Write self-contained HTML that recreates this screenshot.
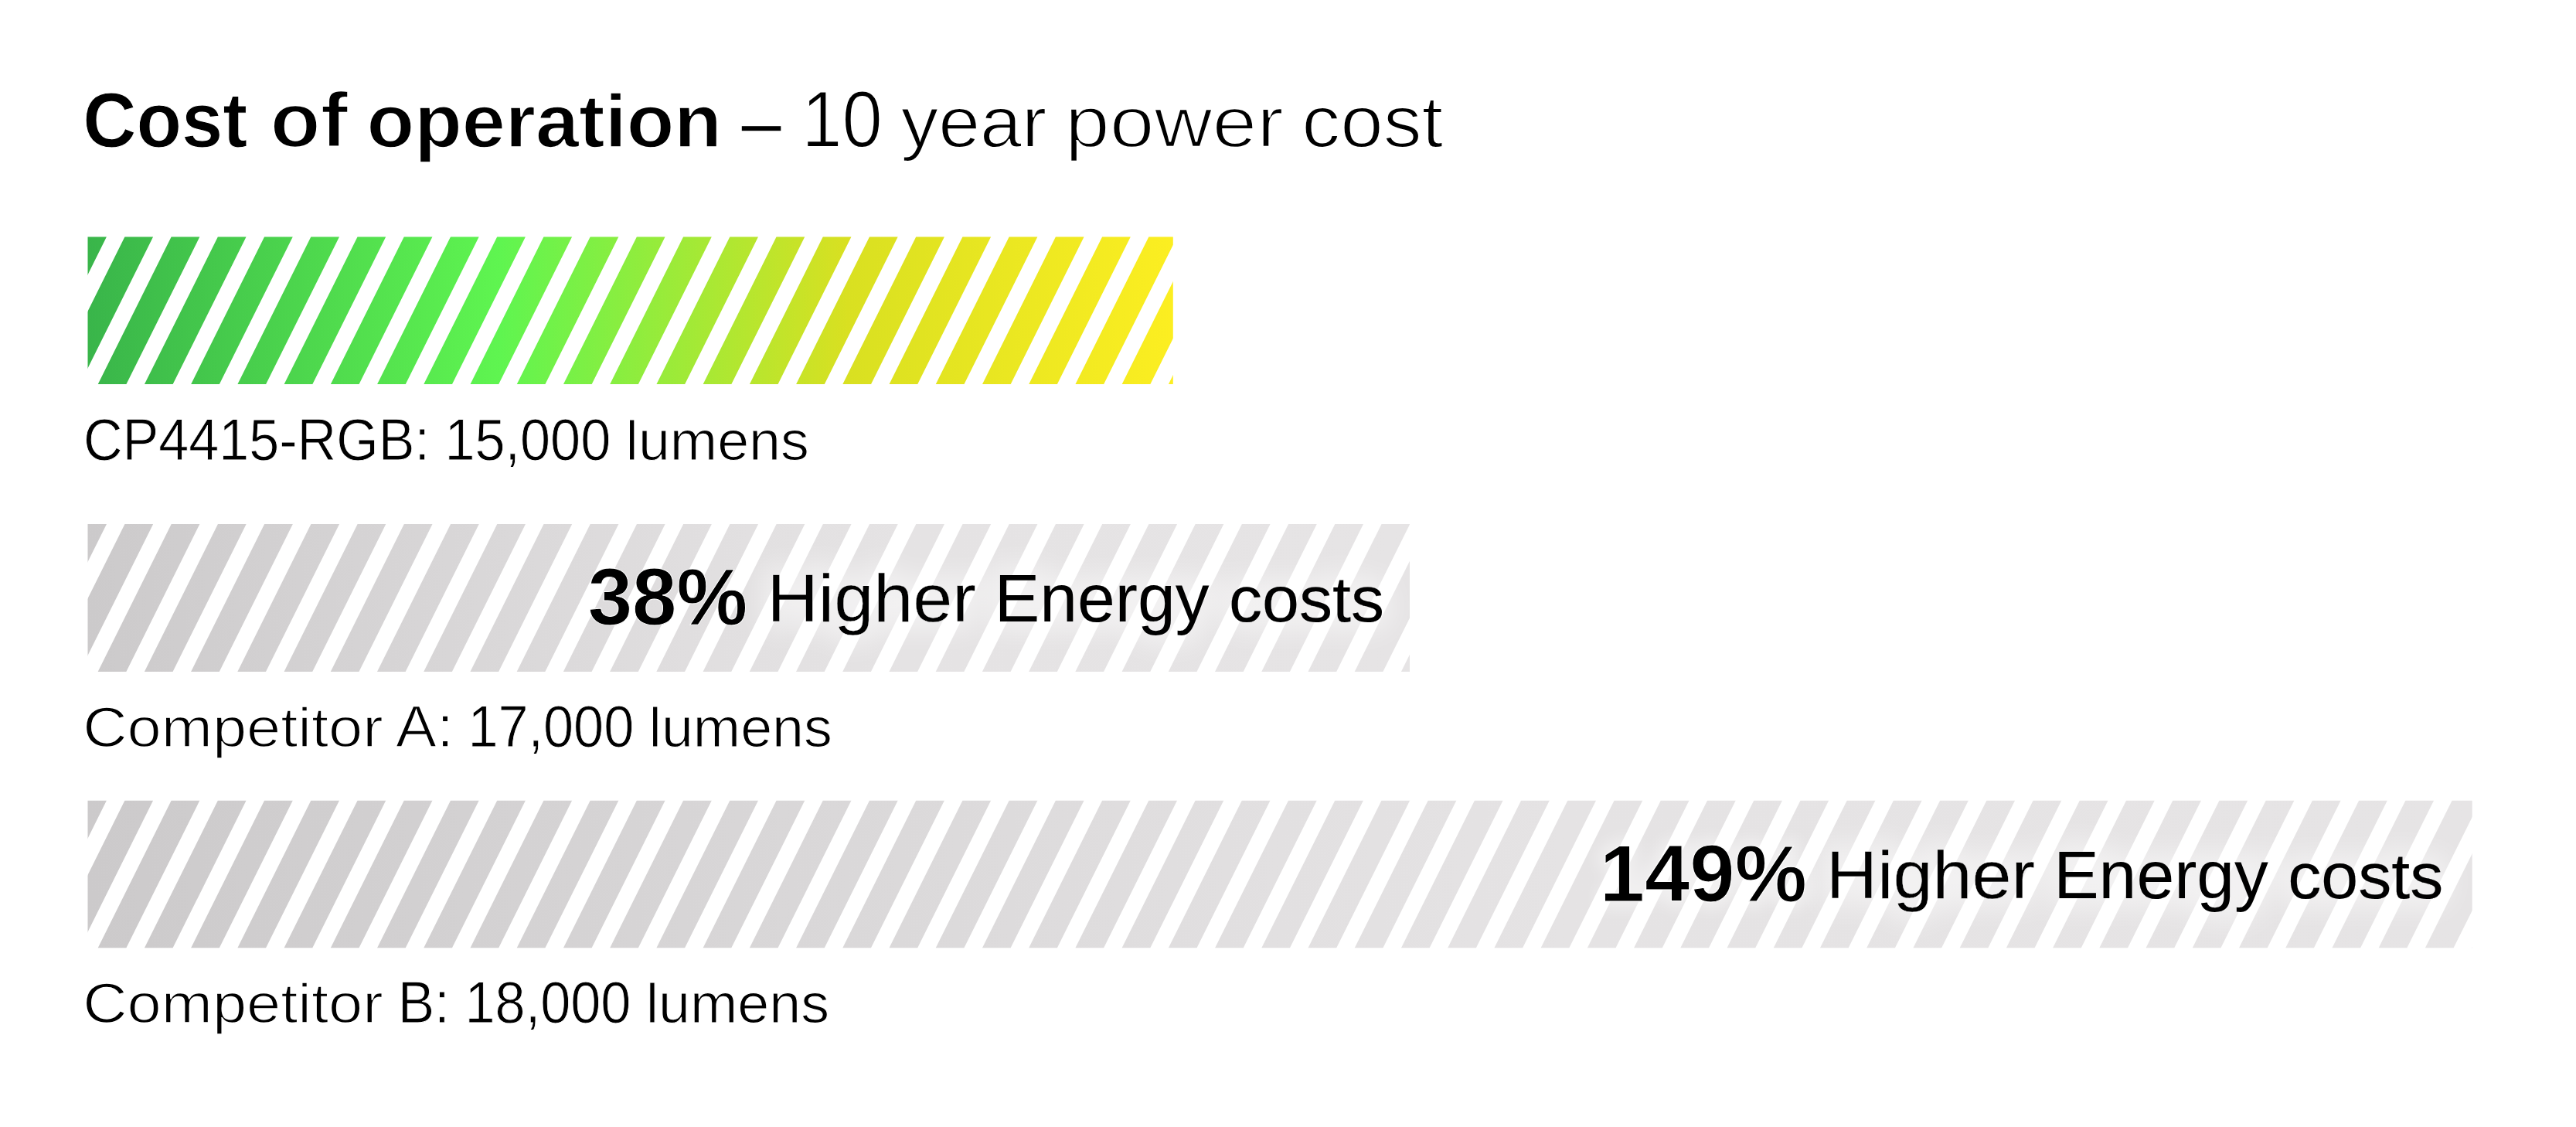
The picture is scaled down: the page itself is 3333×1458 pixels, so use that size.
<!DOCTYPE html>
<html><head><meta charset="utf-8"><title>Cost of operation</title>
<style>
html,body{margin:0;padding:0;background:#fff;}
body{width:3333px;height:1458px;overflow:hidden;font-family:"Liberation Sans", sans-serif;}
svg{display:block;position:absolute;left:0;top:0;}
text{white-space:pre;}
</style></head><body>
<svg width="3333" height="1458" viewBox="0 0 3333 1458">
<defs>
<linearGradient id="g1" gradientUnits="userSpaceOnUse" x1="113.5" y1="0" x2="1517.8" y2="0">
<stop offset="0" stop-color="#39B54A"/><stop offset="0.38" stop-color="#5FF550"/><stop offset="0.70" stop-color="#D9E021"/><stop offset="1" stop-color="#FCEE21"/></linearGradient>
<linearGradient id="g2" gradientUnits="userSpaceOnUse" x1="113.5" y1="0" x2="1824.0" y2="0">
<stop offset="0" stop-color="#CCCACB"/><stop offset="0.5" stop-color="#E2E0E1"/><stop offset="0.62" stop-color="#E5E3E4"/><stop offset="1" stop-color="#E6E4E5"/></linearGradient>
<linearGradient id="g3" gradientUnits="userSpaceOnUse" x1="113.5" y1="0" x2="3198.7" y2="0">
<stop offset="0" stop-color="#CCCACB"/><stop offset="0.5" stop-color="#E2E0E1"/><stop offset="0.62" stop-color="#E5E3E4"/><stop offset="1" stop-color="#E6E4E5"/></linearGradient>
<clipPath id="cb1"><rect x="113.5" y="306.35" width="1404.30" height="190.65"/></clipPath>
<clipPath id="cb2"><rect x="113.5" y="678.0" width="1710.50" height="190.90"/></clipPath>
<clipPath id="cb3"><rect x="113.5" y="1035.6" width="3085.20" height="191.00"/></clipPath>
<filter id="glow" filterUnits="userSpaceOnUse" x="0" y="600" width="3333" height="700"><feGaussianBlur stdDeviation="17"/></filter><filter id="glowb" filterUnits="userSpaceOnUse" x="1900" y="1000" width="600" height="260"><feGaussianBlur stdDeviation="10"/></filter>
</defs>
<rect width="3333" height="1458" fill="#fff"/>
<g clip-path="url(#cb1)"><path d="M-139.64 306.35L-102.94 306.35L-197.88 497.00L-234.58 497.00ZM-79.42 306.35L-42.72 306.35L-137.66 497.00L-174.36 497.00ZM-19.19 306.35L17.51 306.35L-77.44 497.00L-114.14 497.00ZM41.03 306.35L77.73 306.35L-17.21 497.00L-53.91 497.00ZM101.26 306.35L137.96 306.35L43.01 497.00L6.31 497.00ZM161.48 306.35L198.18 306.35L103.24 497.00L66.54 497.00ZM221.70 306.35L258.40 306.35L163.46 497.00L126.76 497.00ZM281.93 306.35L318.63 306.35L223.68 497.00L186.98 497.00ZM342.15 306.35L378.85 306.35L283.91 497.00L247.21 497.00ZM402.38 306.35L439.08 306.35L344.13 497.00L307.43 497.00ZM462.60 306.35L499.30 306.35L404.36 497.00L367.66 497.00ZM522.82 306.35L559.52 306.35L464.58 497.00L427.88 497.00ZM583.05 306.35L619.75 306.35L524.80 497.00L488.10 497.00ZM643.27 306.35L679.97 306.35L585.03 497.00L548.33 497.00ZM703.50 306.35L740.20 306.35L645.25 497.00L608.55 497.00ZM763.72 306.35L800.42 306.35L705.48 497.00L668.78 497.00ZM823.94 306.35L860.64 306.35L765.70 497.00L729.00 497.00ZM884.17 306.35L920.87 306.35L825.92 497.00L789.22 497.00ZM944.39 306.35L981.09 306.35L886.15 497.00L849.45 497.00ZM1004.62 306.35L1041.32 306.35L946.37 497.00L909.67 497.00ZM1064.84 306.35L1101.54 306.35L1006.60 497.00L969.90 497.00ZM1125.06 306.35L1161.76 306.35L1066.82 497.00L1030.12 497.00ZM1185.29 306.35L1221.99 306.35L1127.04 497.00L1090.34 497.00ZM1245.51 306.35L1282.21 306.35L1187.27 497.00L1150.57 497.00ZM1305.74 306.35L1342.44 306.35L1247.49 497.00L1210.79 497.00ZM1365.96 306.35L1402.66 306.35L1307.72 497.00L1271.02 497.00ZM1426.18 306.35L1462.88 306.35L1367.94 497.00L1331.24 497.00ZM1486.41 306.35L1523.11 306.35L1428.16 497.00L1391.46 497.00ZM1546.63 306.35L1583.33 306.35L1488.39 497.00L1451.69 497.00ZM1606.86 306.35L1643.56 306.35L1548.61 497.00L1511.91 497.00Z" fill="url(#g1)"/></g>
<g clip-path="url(#cb2)"><path d="M-139.64 678.00L-102.94 678.00L-198.01 868.90L-234.71 868.90ZM-79.42 678.00L-42.72 678.00L-137.78 868.90L-174.48 868.90ZM-19.19 678.00L17.51 678.00L-77.56 868.90L-114.26 868.90ZM41.03 678.00L77.73 678.00L-17.34 868.90L-54.04 868.90ZM101.26 678.00L137.96 678.00L42.89 868.90L6.19 868.90ZM161.48 678.00L198.18 678.00L103.11 868.90L66.41 868.90ZM221.70 678.00L258.40 678.00L163.34 868.90L126.64 868.90ZM281.93 678.00L318.63 678.00L223.56 868.90L186.86 868.90ZM342.15 678.00L378.85 678.00L283.78 868.90L247.08 868.90ZM402.38 678.00L439.08 678.00L344.01 868.90L307.31 868.90ZM462.60 678.00L499.30 678.00L404.23 868.90L367.53 868.90ZM522.82 678.00L559.52 678.00L464.46 868.90L427.76 868.90ZM583.05 678.00L619.75 678.00L524.68 868.90L487.98 868.90ZM643.27 678.00L679.97 678.00L584.90 868.90L548.20 868.90ZM703.50 678.00L740.20 678.00L645.13 868.90L608.43 868.90ZM763.72 678.00L800.42 678.00L705.35 868.90L668.65 868.90ZM823.94 678.00L860.64 678.00L765.58 868.90L728.88 868.90ZM884.17 678.00L920.87 678.00L825.80 868.90L789.10 868.90ZM944.39 678.00L981.09 678.00L886.02 868.90L849.32 868.90ZM1004.62 678.00L1041.32 678.00L946.25 868.90L909.55 868.90ZM1064.84 678.00L1101.54 678.00L1006.47 868.90L969.77 868.90ZM1125.06 678.00L1161.76 678.00L1066.70 868.90L1030.00 868.90ZM1185.29 678.00L1221.99 678.00L1126.92 868.90L1090.22 868.90ZM1245.51 678.00L1282.21 678.00L1187.14 868.90L1150.44 868.90ZM1305.74 678.00L1342.44 678.00L1247.37 868.90L1210.67 868.90ZM1365.96 678.00L1402.66 678.00L1307.59 868.90L1270.89 868.90ZM1426.18 678.00L1462.88 678.00L1367.82 868.90L1331.12 868.90ZM1486.41 678.00L1523.11 678.00L1428.04 868.90L1391.34 868.90ZM1546.63 678.00L1583.33 678.00L1488.26 868.90L1451.56 868.90ZM1606.86 678.00L1643.56 678.00L1548.49 868.90L1511.79 868.90ZM1667.08 678.00L1703.78 678.00L1608.71 868.90L1572.01 868.90ZM1727.30 678.00L1764.00 678.00L1668.94 868.90L1632.24 868.90ZM1787.53 678.00L1824.23 678.00L1729.16 868.90L1692.46 868.90ZM1847.75 678.00L1884.45 678.00L1789.38 868.90L1752.68 868.90ZM1907.98 678.00L1944.68 678.00L1849.61 868.90L1812.91 868.90Z" fill="url(#g2)"/></g>
<g clip-path="url(#cb3)"><path d="M-139.64 1035.60L-102.94 1035.60L-198.06 1226.60L-234.76 1226.60ZM-79.42 1035.60L-42.72 1035.60L-137.83 1226.60L-174.53 1226.60ZM-19.19 1035.60L17.51 1035.60L-77.61 1226.60L-114.31 1226.60ZM41.03 1035.60L77.73 1035.60L-17.39 1226.60L-54.09 1226.60ZM101.26 1035.60L137.96 1035.60L42.84 1226.60L6.14 1226.60ZM161.48 1035.60L198.18 1035.60L103.06 1226.60L66.36 1226.60ZM221.70 1035.60L258.40 1035.60L163.29 1226.60L126.59 1226.60ZM281.93 1035.60L318.63 1035.60L223.51 1226.60L186.81 1226.60ZM342.15 1035.60L378.85 1035.60L283.73 1226.60L247.03 1226.60ZM402.38 1035.60L439.08 1035.60L343.96 1226.60L307.26 1226.60ZM462.60 1035.60L499.30 1035.60L404.18 1226.60L367.48 1226.60ZM522.82 1035.60L559.52 1035.60L464.41 1226.60L427.71 1226.60ZM583.05 1035.60L619.75 1035.60L524.63 1226.60L487.93 1226.60ZM643.27 1035.60L679.97 1035.60L584.85 1226.60L548.15 1226.60ZM703.50 1035.60L740.20 1035.60L645.08 1226.60L608.38 1226.60ZM763.72 1035.60L800.42 1035.60L705.30 1226.60L668.60 1226.60ZM823.94 1035.60L860.64 1035.60L765.53 1226.60L728.83 1226.60ZM884.17 1035.60L920.87 1035.60L825.75 1226.60L789.05 1226.60ZM944.39 1035.60L981.09 1035.60L885.97 1226.60L849.27 1226.60ZM1004.62 1035.60L1041.32 1035.60L946.20 1226.60L909.50 1226.60ZM1064.84 1035.60L1101.54 1035.60L1006.42 1226.60L969.72 1226.60ZM1125.06 1035.60L1161.76 1035.60L1066.65 1226.60L1029.95 1226.60ZM1185.29 1035.60L1221.99 1035.60L1126.87 1226.60L1090.17 1226.60ZM1245.51 1035.60L1282.21 1035.60L1187.09 1226.60L1150.39 1226.60ZM1305.74 1035.60L1342.44 1035.60L1247.32 1226.60L1210.62 1226.60ZM1365.96 1035.60L1402.66 1035.60L1307.54 1226.60L1270.84 1226.60ZM1426.18 1035.60L1462.88 1035.60L1367.77 1226.60L1331.07 1226.60ZM1486.41 1035.60L1523.11 1035.60L1427.99 1226.60L1391.29 1226.60ZM1546.63 1035.60L1583.33 1035.60L1488.21 1226.60L1451.51 1226.60ZM1606.86 1035.60L1643.56 1035.60L1548.44 1226.60L1511.74 1226.60ZM1667.08 1035.60L1703.78 1035.60L1608.66 1226.60L1571.96 1226.60ZM1727.30 1035.60L1764.00 1035.60L1668.89 1226.60L1632.19 1226.60ZM1787.53 1035.60L1824.23 1035.60L1729.11 1226.60L1692.41 1226.60ZM1847.75 1035.60L1884.45 1035.60L1789.33 1226.60L1752.63 1226.60ZM1907.98 1035.60L1944.68 1035.60L1849.56 1226.60L1812.86 1226.60ZM1968.20 1035.60L2004.90 1035.60L1909.78 1226.60L1873.08 1226.60ZM2028.42 1035.60L2065.12 1035.60L1970.01 1226.60L1933.31 1226.60ZM2088.65 1035.60L2125.35 1035.60L2030.23 1226.60L1993.53 1226.60ZM2148.87 1035.60L2185.57 1035.60L2090.45 1226.60L2053.75 1226.60ZM2209.10 1035.60L2245.80 1035.60L2150.68 1226.60L2113.98 1226.60ZM2269.32 1035.60L2306.02 1035.60L2210.90 1226.60L2174.20 1226.60ZM2329.54 1035.60L2366.24 1035.60L2271.13 1226.60L2234.43 1226.60ZM2389.77 1035.60L2426.47 1035.60L2331.35 1226.60L2294.65 1226.60ZM2449.99 1035.60L2486.69 1035.60L2391.57 1226.60L2354.87 1226.60ZM2510.22 1035.60L2546.92 1035.60L2451.80 1226.60L2415.10 1226.60ZM2570.44 1035.60L2607.14 1035.60L2512.02 1226.60L2475.32 1226.60ZM2630.66 1035.60L2667.36 1035.60L2572.25 1226.60L2535.55 1226.60ZM2690.89 1035.60L2727.59 1035.60L2632.47 1226.60L2595.77 1226.60ZM2751.11 1035.60L2787.81 1035.60L2692.69 1226.60L2655.99 1226.60ZM2811.34 1035.60L2848.04 1035.60L2752.92 1226.60L2716.22 1226.60ZM2871.56 1035.60L2908.26 1035.60L2813.14 1226.60L2776.44 1226.60ZM2931.78 1035.60L2968.48 1035.60L2873.37 1226.60L2836.67 1226.60ZM2992.01 1035.60L3028.71 1035.60L2933.59 1226.60L2896.89 1226.60ZM3052.23 1035.60L3088.93 1035.60L2993.81 1226.60L2957.11 1226.60ZM3112.46 1035.60L3149.16 1035.60L3054.04 1226.60L3017.34 1226.60ZM3172.68 1035.60L3209.38 1035.60L3114.26 1226.60L3077.56 1226.60ZM3232.90 1035.60L3269.60 1035.60L3174.49 1226.60L3137.79 1226.60ZM3293.13 1035.60L3329.83 1035.60L3234.71 1226.60L3198.01 1226.60Z" fill="url(#g3)"/></g>
<g opacity="0.5" filter="url(#glow)"><text font-family='"Liberation Sans", sans-serif' font-weight="normal" font-size="87" transform="translate(992.51,803.75) scale(1.0551,1)" fill="#fff" stroke="#fff" stroke-width="26" stroke-linejoin="round">Higher</text><text font-family='"Liberation Sans", sans-serif' font-weight="normal" font-size="87" transform="translate(1286.85,803.75) scale(1.0078,1)" fill="#fff" stroke="#fff" stroke-width="26" stroke-linejoin="round">Energy</text><text font-family='"Liberation Sans", sans-serif' font-weight="normal" font-size="83" transform="translate(1589.88,803.75) scale(1.0388,1)" fill="#fff" stroke="#fff" stroke-width="26" stroke-linejoin="round">costs</text><text font-family='"Liberation Sans", sans-serif' font-weight="normal" font-size="87" transform="translate(2362.81,1161.65) scale(1.0551,1)" fill="#fff" stroke="#fff" stroke-width="26" stroke-linejoin="round">Higher</text><text font-family='"Liberation Sans", sans-serif' font-weight="normal" font-size="87" transform="translate(2657.15,1161.65) scale(1.0078,1)" fill="#fff" stroke="#fff" stroke-width="26" stroke-linejoin="round">Energy</text><text font-family='"Liberation Sans", sans-serif' font-weight="normal" font-size="83" transform="translate(2960.18,1161.65) scale(1.0388,1)" fill="#fff" stroke="#fff" stroke-width="26" stroke-linejoin="round">costs</text></g><g opacity="0.45" filter="url(#glowb)"><text font-family='"Liberation Sans", sans-serif' font-weight="bold" font-size="103.6" transform="translate(2069.71,1166.30) scale(1.0122,1)" fill="#fff" stroke="#fff" stroke-width="18" stroke-linejoin="round">149%</text></g>
<text font-family='"Liberation Sans", sans-serif' font-weight="bold" font-size="101" transform="translate(107.26,189.95) scale(0.9484,1)" fill="#000" stroke="#fff" stroke-width="1.07">Cost</text>
<text font-family='"Liberation Sans", sans-serif' font-weight="bold" font-size="100" transform="translate(349.51,189.95) scale(1.0676,1)" fill="#000" stroke="#fff" stroke-width="2.37">of</text>
<text font-family='"Liberation Sans", sans-serif' font-weight="bold" font-size="96" transform="translate(474.60,189.95) scale(1.0501,1)" fill="#000" stroke="#fff" stroke-width="1.63">operation</text>
<text font-family='"Liberation Sans", sans-serif' font-weight="normal" font-size="103" transform="translate(1037.28,189.95) scale(0.9129,1)" fill="#000" stroke="#fff" stroke-width="1.82">10</text>
<text font-family='"Liberation Sans", sans-serif' font-weight="normal" font-size="93" transform="translate(1165.72,189.95) scale(1.0420,1)" fill="#000" stroke="#fff" stroke-width="1.84">year</text>
<text font-family='"Liberation Sans", sans-serif' font-weight="normal" font-size="93" transform="translate(1377.98,189.95) scale(1.1169,1)" fill="#000" stroke="#fff" stroke-width="2.28">power</text>
<text font-family='"Liberation Sans", sans-serif' font-weight="normal" font-size="94" transform="translate(1684.29,189.95) scale(1.0614,1)" fill="#000" stroke="#fff" stroke-width="2.05">cost</text>
<text font-family='"Liberation Sans", sans-serif' font-weight="normal" font-size="76" transform="translate(107.96,594.70) scale(0.9223,1)" fill="#000" stroke="#fff" stroke-width="0.88">CP4415-RGB:</text>
<text font-family='"Liberation Sans", sans-serif' font-weight="normal" font-size="76" transform="translate(575.45,594.70) scale(0.9242,1)" fill="#000" stroke="#fff" stroke-width="0.89">15,000</text>
<text font-family='"Liberation Sans", sans-serif' font-weight="normal" font-size="72" transform="translate(809.59,594.70) scale(1.0223,1)" fill="#000" stroke="#fff" stroke-width="1.10">lumens</text>
<text font-family='"Liberation Sans", sans-serif' font-weight="normal" font-size="72" transform="translate(107.24,965.70) scale(1.1033,1)" fill="#000" stroke="#fff" stroke-width="1.50">Competitor</text>
<text font-family='"Liberation Sans", sans-serif' font-weight="normal" font-size="76" transform="translate(511.91,965.70) scale(1.0452,1)" fill="#000" stroke="#fff" stroke-width="1.58">A:</text>
<text font-family='"Liberation Sans", sans-serif' font-weight="normal" font-size="76" transform="translate(605.45,965.70) scale(0.9242,1)" fill="#000" stroke="#fff" stroke-width="0.89">17,000</text>
<text font-family='"Liberation Sans", sans-serif' font-weight="normal" font-size="72" transform="translate(839.54,965.70) scale(1.0225,1)" fill="#000" stroke="#fff" stroke-width="1.10">lumens</text>
<text font-family='"Liberation Sans", sans-serif' font-weight="normal" font-size="72" transform="translate(107.24,1322.80) scale(1.1033,1)" fill="#000" stroke="#fff" stroke-width="1.50">Competitor</text>
<text font-family='"Liberation Sans", sans-serif' font-weight="normal" font-size="76" transform="translate(514.64,1322.80) scale(0.9368,1)" fill="#000" stroke="#fff" stroke-width="0.97">B:</text>
<text font-family='"Liberation Sans", sans-serif' font-weight="normal" font-size="76" transform="translate(601.55,1322.80) scale(0.9242,1)" fill="#000" stroke="#fff" stroke-width="0.89">18,000</text>
<text font-family='"Liberation Sans", sans-serif' font-weight="normal" font-size="72" transform="translate(835.69,1322.80) scale(1.0223,1)" fill="#000" stroke="#fff" stroke-width="1.10">lumens</text>
<text font-family='"Liberation Sans", sans-serif' font-weight="bold" font-size="103.6" transform="translate(760.71,808.30) scale(0.9960,1)" fill="#000" stroke="#fff" stroke-width="0.94">38%</text>
<text font-family='"Liberation Sans", sans-serif' font-weight="normal" font-size="87" transform="translate(992.51,803.75) scale(1.0551,1)" fill="#000" stroke="#fff" stroke-width="0.34">Higher</text>
<text font-family='"Liberation Sans", sans-serif' font-weight="normal" font-size="87" transform="translate(1286.85,803.75) scale(1.0078,1)" fill="#000">Energy</text>
<text font-family='"Liberation Sans", sans-serif' font-weight="normal" font-size="83" transform="translate(1589.88,803.75) scale(1.0388,1)" fill="#000" stroke="#000" stroke-width="0.13">costs</text>
<text font-family='"Liberation Sans", sans-serif' font-weight="bold" font-size="103.6" transform="translate(2069.71,1166.30) scale(1.0122,1)" fill="#000" stroke="#fff" stroke-width="1.16">149%</text>
<text font-family='"Liberation Sans", sans-serif' font-weight="normal" font-size="87" transform="translate(2362.81,1161.65) scale(1.0551,1)" fill="#000" stroke="#fff" stroke-width="0.34">Higher</text>
<text font-family='"Liberation Sans", sans-serif' font-weight="normal" font-size="87" transform="translate(2657.15,1161.65) scale(1.0078,1)" fill="#000">Energy</text>
<text font-family='"Liberation Sans", sans-serif' font-weight="normal" font-size="83" transform="translate(2960.18,1161.65) scale(1.0388,1)" fill="#000" stroke="#000" stroke-width="0.13">costs</text>
<rect x="959.8" y="163.2" width="50.5" height="6.0" fill="#000"/>
</svg>
</body></html>
